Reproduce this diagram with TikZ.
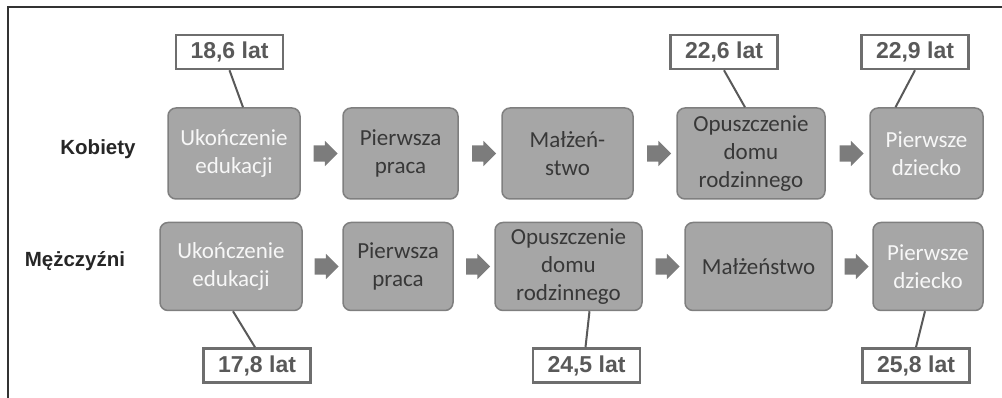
\documentclass[tikz,border=0pt]{standalone}
\usepackage{fontspec}
\setmainfont{Carlito}
\newfontfamily\arialfont{Liberation Sans}
\usetikzlibrary{shapes.arrows}
\definecolor{boxfill}{HTML}{A6A6A6}
\definecolor{boxline}{HTML}{7F7F7F}
\definecolor{darktext}{HTML}{383838}
\definecolor{agegray}{HTML}{595959}
\definecolor{ageline}{HTML}{6E6E6E}
\definecolor{arrowgray}{HTML}{7C7C7C}
\tikzset{
every picture/.style={x=1pt, y=-1pt},
%%%%%%%%%%  Node styles
stage_box/.style={rectangle, rounded corners=8pt, fill=boxfill, draw=boxline,
                  line width=1.5pt, align=center, inner sep=0pt, text=darktext,
                  font=\fontsize{23}{28}\selectfont},
stage_light/.style={stage_box, text=white!97!black},
age_box/.style={rectangle, draw=ageline, fill=white, line width=2.5pt,
                minimum width=107pt, minimum height=34pt, inner sep=0pt,
                text=agegray, font=\arialfont\bfseries\fontsize{23}{26}\selectfont},
row_label/.style={inner sep=0pt, text=black!85,
                  font=\arialfont\bfseries\fontsize{20.5}{24}\selectfont},
%%%%%%% connectors
block_arrow/.style={single arrow, fill=arrowgray, draw=none, inner xsep=0pt,
                    inner ysep=8pt, minimum height=24pt,
                    single arrow head extend=4.5pt},
age_link/.style={draw=agegray, line width=2pt},
frame_line/.style={draw=black!80, line width=2.5pt}
}

\begin{document}
\begin{tikzpicture}
\useasboundingbox (0,0) rectangle (1002,398);
\draw[frame_line] (1002,7) -- (8,7) -- (8,398);

%% Kobiety
\node[row_label] (kob) at (98,149) {Kobiety};
\node[stage_light, minimum width=132pt, minimum height=91pt] (k1) at (234,153.5) {Ukończenie\\edukacji};
\node[stage_box, minimum width=115pt, minimum height=91pt] (k2) at (400.5,153.5) {Pierwsza\\praca};
\node[stage_box, minimum width=131pt, minimum height=91pt] (k3) at (567.5,153.5) {Małżeń-\\stwo};
\node[stage_box, minimum width=148pt, minimum height=91pt] (k4) at (751,153.5) {Opuszczenie\\domu\\rodzinnego};
\node[stage_light, minimum width=113pt, minimum height=91pt] (k5) at (926.5,153.5) {Pierwsze\\dziecko};
\foreach \a/\b in {k1/k2,k2/k3,k3/k4,k4/k5}
  \path (\a.east) -- (\b.west) node[midway, block_arrow] {};

\node[age_box] (ka) at (229.5,52) {18,6 lat};
\node[age_box] (kd) at (724,52) {22,6 lat};
\node[age_box] (ke) at (915,52) {22,9 lat};
\draw[age_link] (ka.south) -- ([xshift=9pt]k1.north);
\draw[age_link] (kd.south) -- ([xshift=-6pt]k4.north);
\draw[age_link] (ke.south) -- ([xshift=-31pt]k5.north);

%% Mężczyźni
\node[row_label] (mez) at (75,261) {Mężczyźni};
\node[stage_light, minimum width=142pt, minimum height=88pt] (m1) at (231,266.5) {Ukończenie\\edukacji};
\node[stage_box, minimum width=110pt, minimum height=88pt] (m2) at (398,266.5) {Pierwsza\\praca};
\node[stage_box, minimum width=147pt, minimum height=88pt] (m3) at (568.5,266.5) {Opuszczenie\\domu\\rodzinnego};
\node[stage_box, minimum width=147pt, minimum height=88pt] (m4) at (758.5,266.5) {Małżeństwo};
\node[stage_light, minimum width=110pt, minimum height=88pt] (m5) at (928,266.5) {Pierwsze\\dziecko};
\foreach \a/\b in {m1/m2,m2/m3,m3/m4,m4/m5}
  \path (\a.east) -- (\b.west) node[midway, block_arrow] {};

\node[age_box] (ma) at (257,365.5) {17,8 lat};
\node[age_box] (md) at (586.5,365.5) {24,5 lat};
\node[age_box] (me) at (916,365.5) {25,8 lat};
\draw[age_link] ([xshift=2pt]m1.south) -- ([xshift=-2pt]ma.north);
\draw[age_link] ([xshift=21pt]m3.south) -- ([xshift=-1pt]md.north);
\draw[age_link] ([xshift=-3pt]m5.south) -- (me.north);
\end{tikzpicture}
\end{document}
